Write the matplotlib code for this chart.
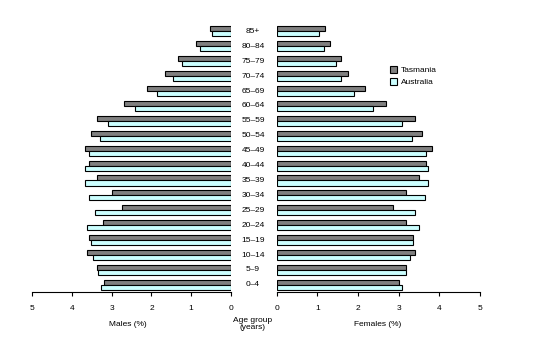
import numpy as np
import matplotlib.pyplot as plt
from matplotlib.patches import Patch

plt.rcParams['font.family'] = ['Liberation Sans Narrow', 'Liberation Sans', 'DejaVu Sans']

age_groups = ['0–4', '5–9', '10–14', '15–19', '20–24', '25–29', '30–34', '35–39',
              '40–44', '45–49', '50–54', '55–59', '60–64', '65–69', '70–74', '75–79',
              '80–84', '85+']

males_tas = [3.18, 3.36, 3.61, 3.56, 3.21, 2.75, 3.00, 3.36, 3.56, 3.68,
             3.51, 3.36, 2.68, 2.12, 1.65, 1.34, 0.89, 0.54]
males_aus = [3.26, 3.33, 3.48, 3.51, 3.61, 3.43, 3.58, 3.68, 3.68, 3.58,
             3.28, 3.08, 2.40, 1.85, 1.47, 1.22, 0.79, 0.49]
females_tas = [3.00, 3.19, 3.39, 3.36, 3.17, 2.85, 3.17, 3.49, 3.66, 3.83,
               3.57, 3.39, 2.70, 2.18, 1.76, 1.59, 1.32, 1.20]
females_aus = [3.07, 3.17, 3.29, 3.34, 3.51, 3.39, 3.64, 3.71, 3.73, 3.66,
               3.32, 3.07, 2.38, 1.91, 1.59, 1.47, 1.17, 1.05]

c_tas = '#808080'
c_aus = '#ccffff'
h = 0.34
y = np.arange(len(age_groups))

fig = plt.figure(figsize=(5.4, 3.41), dpi=100)
axl = fig.add_axes([0.0593, 0.1428, 0.3685, 0.787])
axr = fig.add_axes([0.5124, 0.1428, 0.3765, 0.787])

for ax, tas, aus in [(axl, males_tas, males_aus), (axr, females_tas, females_aus)]:
    ax.barh(y + h / 2, tas, height=h, color=c_tas, edgecolor='black', linewidth=0.8)
    ax.barh(y - h / 2, aus, height=h, color=c_aus, edgecolor='black', linewidth=0.8)
    ax.set_xlim(0, 5)
    ax.set_ylim(-0.5, 17.5)
    ax.set_yticks([])
    for s in ['top', 'left', 'right']:
        ax.spines[s].set_visible(False)
    ax.spines['bottom'].set_linewidth(0.8)
    ax.set_xticks(range(6))
    ax.tick_params(axis='x', direction='out', length=3, width=0.8, labelsize=6, pad=6)

axl.invert_xaxis()

for i, lab in enumerate(age_groups):
    fig.text(253 / 540, axl.transData.transform((0, i))[1] / fig.bbox.height,
             lab, ha='center', va='center', fontsize=6)

fig.text(128 / 540, 1 - 325 / 341, 'Males (%)', ha='center', va='center', fontsize=6)
fig.text(378 / 540, 1 - 325 / 341, 'Females (%)', ha='center', va='center', fontsize=6)
fig.text(253 / 540, 1 - 324 / 341, 'Age group\n(years)', ha='center', va='center',
         fontsize=6, linespacing=1.1)

handles = [Patch(facecolor=c_tas, edgecolor='black', linewidth=0.8, label='Tasmania'),
           Patch(facecolor=c_aus, edgecolor='black', linewidth=0.8, label='Australia')]
fig.legend(handles=handles, loc='upper left', bbox_to_anchor=(386 / 540, 1 - 62 / 341),
           frameon=False, fontsize=6, handlelength=0.8, handleheight=0.8,
           handletextpad=0.5, labelspacing=0.5, borderpad=0)

fig.savefig('out.png', dpi=100)
